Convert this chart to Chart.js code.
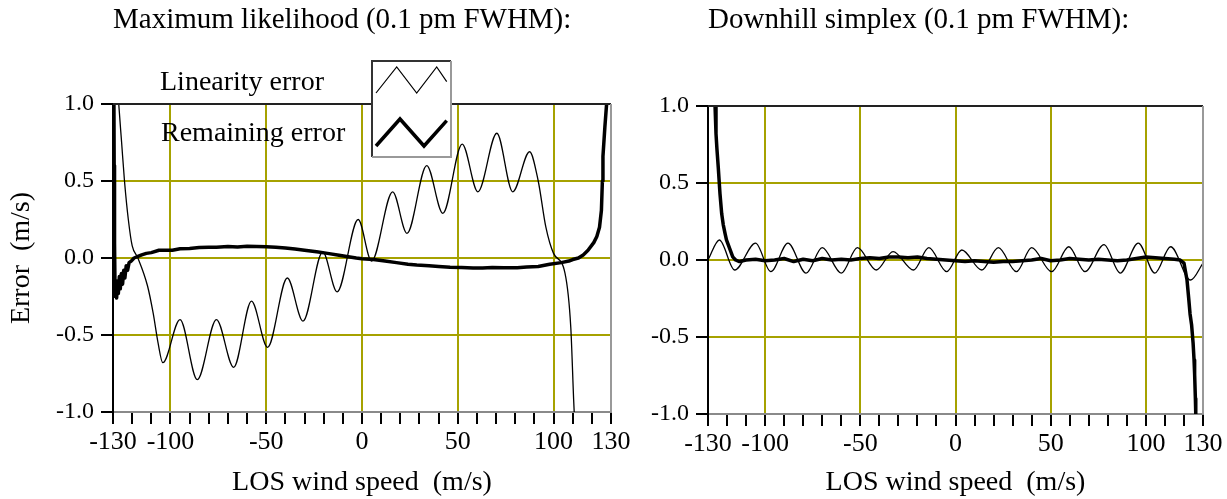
<!DOCTYPE html>
<html><head><meta charset="utf-8">
<script src="https://cdn.jsdelivr.net/npm/chart.js@4/dist/chart.umd.min.js"></script>
<style>
html,body{margin:0;padding:0;background:#fff;}
#wrap{position:relative;width:1227px;height:499px;overflow:hidden;background:#fff;}
#c1{position:absolute;left:0;top:0;}
#c2{position:absolute;left:640px;top:0;}
</style></head><body>
<div id="wrap"><canvas id="c1" width="640" height="499"></canvas><canvas id="c2" width="587" height="499"></canvas></div>
<script>
// ---------- text ----------
const chartTitles = ['Maximum likelihood (0.1 pm FWHM):', 'Downhill simplex (0.1 pm FWHM):'];
const xAxisTitle = 'LOS wind speed  (m/s)';
const yAxisTitle = 'Error  (m/s)';
const legendLabels = ['Linearity error', 'Remaining error'];

// ---------- ticks ----------
const xTickValues = [-130,-120,-110,-100,-90,-80,-70,-60,-50,-40,-30,-20,-10,0,10,20,30,40,50,60,70,80,90,100,110,120,130];
const xTickLabels = [-130,-100,-50,0,50,100,130];
const xGridValues = [-100,-50,0,50,100];
const yTickValues = [-1,-0.5,0,0.5,1];
const yGridValues = [-0.5,0,0.5];

// ---------- Maximum likelihood: linearity error ----------
const mlLinX = [-128.5,-127,-125.5,-124,-122,-120,-117,-112,-109,-106.5,-104,-95,-86,-76,-67,-57.7,-49.3,-39,-30.8,-20.5,-13,-2,5,16,23.5,33.8,42.2,52.3,60.5,70.4,78.7,87.5,92,96,100,106,109,110.5,111.5];
const mlLinY = [1.3,1.0,0.75,0.5,0.25,0.08,0.0,-0.18,-0.36,-0.55,-0.68,-0.40,-0.79,-0.40,-0.71,-0.28,-0.58,-0.13,-0.41,0.04,-0.22,0.25,-0.02,0.43,0.16,0.60,0.29,0.74,0.43,0.81,0.43,0.69,0.5,0.2,0.03,-0.1,-0.45,-0.92,-1.2];

// ---------- Maximum likelihood: remaining error ----------
const mlRemX = [-129.6,-129.4,-129.2,-128.9,-128.5,-128.1,-127.7,-127.2,-126.7,-126.2,-125.6,-125,-124.4,-123.8,-123.1,-122.4,-121.6,-120.5,-119,-117,-115,-112.6,-110,-106,-99,-95,-90,-85,-80,-76,-70,-65,-60,-55,-50,-45,-40,-35,-30,-23.7,-18,-12,-8,-3,0,6,12,18,24,28.6,35,40,46,52,58,63,68,74,81,86,92,98,104,108,110,113,115.5,118,121,122.6,124,125,125.5,125.8,126.8,127.7,128.2];
const mlRemY = [1.3,0.6,0.1,-0.25,-0.18,-0.26,-0.15,-0.23,-0.12,-0.2,-0.1,-0.17,-0.08,-0.13,-0.05,-0.08,-0.03,-0.02,0.0,0.01,0.02,0.03,0.035,0.05,0.05,0.06,0.062,0.068,0.07,0.07,0.075,0.072,0.076,0.074,0.073,0.07,0.065,0.058,0.05,0.04,0.03,0.018,0.01,0.0,-0.005,-0.01,-0.02,-0.03,-0.04,-0.045,-0.05,-0.055,-0.06,-0.062,-0.065,-0.065,-0.062,-0.064,-0.063,-0.058,-0.055,-0.04,-0.03,-0.02,-0.01,0.0,0.02,0.05,0.1,0.14,0.2,0.31,0.5,0.66,0.85,1.0,1.2];

// ---------- Downhill simplex: linearity error ----------
const dsLinX = [-130,-124,-116,-105,-97,-88,-78.5,-70,-60,-51.5,-41.6,-32.8,-22,-14,-4.6,3.3,13.8,22.5,32,40,50.5,59.5,68,78,86.5,96,104.7,113,123.5,130];
const dsLinY = [0.0,0.13,-0.065,0.11,-0.076,0.11,-0.085,0.08,-0.085,0.08,-0.065,0.055,-0.065,0.08,-0.076,0.065,-0.065,0.08,-0.076,0.08,-0.076,0.086,-0.076,0.1,-0.085,0.11,-0.085,0.086,-0.13,-0.02];

// ---------- Downhill simplex: remaining error ----------
const dsRemX = [-126.6,-126.3,-125.8,-125.3,-124.6,-123.7,-122.8,-122,-121,-120.3,-118.5,-117,-115.5,-113.5,-110,-105,-100,-95,-90,-85,-80,-75,-70,-65,-60,-55,-50,-45,-40,-35,-30,-25,-20,-15,-10,-5,0,5,10,15,20,25,30,35,40,45,50,55,60,65,70,75,80,85,90,95,100,105,110,115,118,120,121.6,122.5,123.2,124,124.8,125.3,125.6,126,126.2,126.4];
const dsRemY = [1.2,1.0,0.82,0.72,0.6,0.43,0.3,0.23,0.17,0.13,0.07,0.02,0.0,-0.01,0.0,0.005,-0.005,0.0,0.01,-0.01,0.005,-0.005,0.01,0.0,0.005,0.0,0.01,0.015,0.01,0.02,0.02,0.015,0.02,0.01,0.005,0.0,-0.005,-0.01,-0.005,-0.01,-0.015,-0.01,-0.01,-0.005,0.0,0.01,-0.005,0.0,0.01,0.005,0.0,0.005,0.0,-0.005,0.0,0.01,0.02,0.015,0.01,0.005,0.0,-0.02,-0.13,-0.25,-0.35,-0.42,-0.54,-0.65,-0.74,-0.9,-1.0,-1.2];

const toPts = (xs, ys) => xs.map((x, i) => ({x, y: ys[i]}));

const SERIF = '"Liberation Serif", "Times New Roman", serif';
const GRID = '#a6a200';

// frame (top/right edges) + zig-zag legend
function framePlugin(withLegend) {
  return {
    id: 'frameLegend',
    afterDraw(chart) {
      const {ctx, chartArea: ca} = chart;
      ctx.save();
      ctx.lineWidth = 2;
      ctx.strokeStyle = '#222';
      ctx.beginPath(); ctx.moveTo(ca.left, ca.top); ctx.lineTo(ca.right, ca.top); ctx.stroke();
      ctx.strokeStyle = '#999';
      ctx.beginPath(); ctx.moveTo(ca.right, ca.top); ctx.lineTo(ca.right, ca.bottom); ctx.stroke();
      if (withLegend) {
        ctx.font = '28px ' + SERIF;
        ctx.fillStyle = '#000';
        ctx.textBaseline = 'alphabetic';
        ctx.textAlign = 'left';
        ctx.fillText(legendLabels[0], ca.left + 47, ca.top - 14);
        ctx.fillText(legendLabels[1], ca.left + 48, ca.top + 37);
        const bx = ca.left + 259, by = ca.top - 43, bw = 79, bh = 96;
        ctx.fillStyle = '#fff';
        ctx.fillRect(bx, by, bw, bh);
        ctx.lineWidth = 2;
        ctx.strokeStyle = '#333';
        ctx.beginPath(); ctx.moveTo(bx, by + bh); ctx.lineTo(bx, by); ctx.lineTo(bx + bw, by); ctx.stroke();
        ctx.strokeStyle = '#999';
        ctx.beginPath(); ctx.moveTo(bx + bw, by); ctx.lineTo(bx + bw, by + bh); ctx.lineTo(bx, by + bh); ctx.stroke();
        ctx.strokeStyle = '#000';
        ctx.lineJoin = 'miter';
        ctx.lineWidth = 1.2;
        ctx.beginPath();
        ctx.moveTo(bx + 4, by + 32); ctx.lineTo(bx + 24.7, by + 6); ctx.lineTo(bx + 44.7, by + 32);
        ctx.lineTo(bx + 64.7, by + 6); ctx.lineTo(bx + 74.7, by + 20.7);
        ctx.stroke();
        ctx.lineWidth = 3.5;
        ctx.beginPath();
        ctx.moveTo(bx + 4, by + 85); ctx.lineTo(bx + 28, by + 58); ctx.lineTo(bx + 52, by + 85);
        ctx.lineTo(bx + 74.7, by + 59.7);
        ctx.stroke();
      }
      ctx.restore();
    }
  };
}

function makeChart(canvasId, title, remPts, linPts, o) {
  return new Chart(document.getElementById(canvasId), {
    type: 'line',
    data: {
      datasets: [
        { label: legendLabels[1], data: remPts, borderColor: '#000', borderWidth: 3.5, pointRadius: 0, tension: 0, borderJoinStyle: 'round' },
        { label: legendLabels[0], data: linPts, borderColor: '#000', borderWidth: 1.3, pointRadius: 0, cubicInterpolationMode: 'monotone' }
      ]
    },
    options: {
      responsive: false,
      devicePixelRatio: 1,
      animation: false,
      events: [],
      layout: { padding: { left: 0, right: o.padRight, top: 0, bottom: 0 } },
      plugins: {
        legend: { display: false },
        tooltip: { enabled: false },
        title: {
          display: true, text: title, fullSize: false, align: 'start',
          color: '#000', font: { family: SERIF, size: 29, weight: 'normal' },
          padding: { top: 3, bottom: o.top - 34.8 - 3 }
        }
      },
      scales: {
        x: {
          type: 'linear', min: -130, max: 130,
          afterBuildTicks: s => { s.ticks = xTickValues.map(v => ({ value: v })); },
          afterFit: s => { s.height = 499 - o.bottom; },
          ticks: {
            autoSkip: false, maxRotation: 0, padding: 3, color: '#000',
            font: { family: SERIF, size: 26 },
            callback: v => xTickLabels.includes(v) ? String(v) : ''
          },
          grid: {
            drawTicks: true, tickLength: 12, tickWidth: 2, tickColor: '#000', lineWidth: 2,
            color: c => (c.tick && xGridValues.includes(c.tick.value)) ? GRID : 'rgba(0,0,0,0)'
          },
          border: { display: true, color: '#8a8a8a', width: 2 },
          title: { display: true, text: xAxisTitle, color: '#000', font: { family: SERIF, size: 28 }, padding: { top: 0, bottom: 0 } }
        },
        y: {
          type: 'linear', min: -1, max: 1,
          afterBuildTicks: s => { s.ticks = yTickValues.map(v => ({ value: v })); },
          afterFit: s => { s.width = o.left; },
          ticks: {
            padding: 7, color: '#000', font: { family: SERIF, size: 24 },
            callback: v => Number(v).toFixed(1)
          },
          grid: {
            drawTicks: true, tickLength: 12, tickWidth: 2, tickColor: '#000', lineWidth: 2,
            color: c => (c.tick && yGridValues.includes(c.tick.value)) ? GRID : 'rgba(0,0,0,0)'
          },
          border: { display: true, color: '#000', width: 2 },
          title: { display: o.yTitle, text: yAxisTitle, color: '#000', font: { family: SERIF, size: 28 }, padding: { top: 5, bottom: 0 } }
        }
      }
    },
    plugins: [framePlugin(o.legend)]
  });
}

makeChart('c1', chartTitles[0], toPts(mlRemX, mlRemY), toPts(mlLinX, mlLinY),
  { left: 113, padRight: 29, top: 104, bottom: 412, yTitle: true, legend: true });
makeChart('c2', chartTitles[1], toPts(dsRemX, dsRemY), toPts(dsLinX, dsLinY),
  { left: 68, padRight: 24, top: 106, bottom: 414, yTitle: false, legend: false });
</script>
</body></html>
